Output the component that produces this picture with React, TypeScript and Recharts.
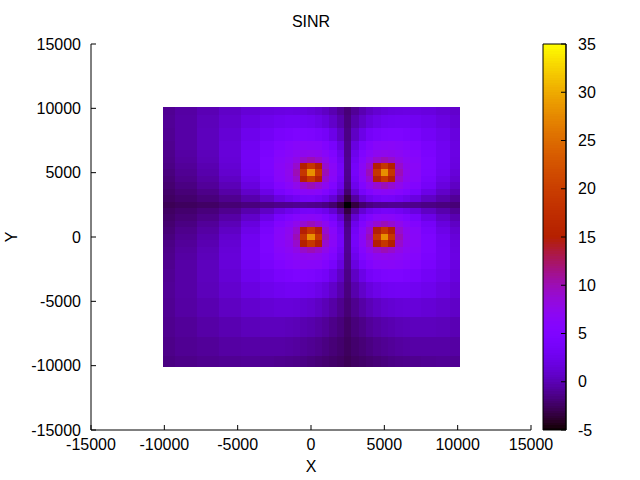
import { ScatterChart, Scatter, XAxis, YAxis, ReferenceArea } from "recharts";

// cell centres of the SINR map (grid is finer round the four sites)
const X_CENTERS = [
  -10000, -8500, -7000, -5500, -4000, -3000, -2000, -1500, -1000, -500, 0, 500, 1000, 1500,
  2000, 2500, 3000, 3500, 4000, 4500, 5000, 5500, 6000, 6500, 7000, 8000, 9000, 10000,
];
const Y_CENTERS = [
  10000, 9000, 8000, 7000, 6500, 6000, 5500, 5000, 4500, 4000, 3500, 3000, 2500, 2000,
  1500, 1000, 500, 0, -500, -1000, -1500, -2000, -3000, -4000, -5500, -7000, -8500, -10000,
];

// SINR (dB), one row per Y_CENTERS entry, one value per X_CENTERS entry
const SINR_ROWS = [
  [-1.1, -0.6, 0.0, 0.7, 1.3, 1.7, 1.9, 2.0, 1.9, 1.8, 1.5, 1.1, 0.6, -0.1, -1.0, -1.9, -1.0, -0.1, 0.6, 1.1, 1.5, 1.8, 1.9, 2.0, 1.9, 1.7, 1.3, 0.9],
  [-1.0, -0.5, 0.2, 1.0, 1.9, 2.5, 2.9, 3.1, 3.1, 3.0, 2.8, 2.3, 1.7, 0.8, -0.3, -1.7, -0.3, 0.8, 1.7, 2.3, 2.8, 3.0, 3.1, 3.1, 2.9, 2.5, 1.9, 1.3],
  [-1.1, -0.5, 0.3, 1.3, 2.5, 3.3, 4.1, 4.5, 4.8, 4.7, 4.6, 4.1, 3.5, 2.2, 0.6, -1.5, 0.6, 2.2, 3.5, 4.1, 4.6, 4.7, 4.8, 4.5, 4.1, 3.3, 2.5, 1.7],
  [-1.2, -0.5, 0.3, 1.5, 2.9, 4.1, 5.3, 5.8, 6.2, 6.5, 6.4, 6.2, 5.4, 4.0, 1.8, -1.3, 1.8, 4.0, 5.4, 6.2, 6.4, 6.5, 6.2, 5.8, 5.3, 4.1, 2.9, 1.9],
  [-1.3, -0.6, 0.2, 1.5, 3.1, 4.5, 5.8, 6.4, 6.9, 7.3, 7.4, 7.2, 6.4, 5.0, 2.5, -1.2, 2.5, 5.0, 6.4, 7.2, 7.4, 7.3, 6.9, 6.4, 5.8, 4.5, 3.1, 2.0],
  [-1.4, -0.7, 0.1, 1.4, 3.1, 4.8, 6.2, 6.9, 7.8, 9.1, 9.9, 9.0, 7.5, 5.8, 3.1, -1.1, 3.1, 5.8, 7.5, 9.0, 9.9, 9.1, 7.8, 6.9, 6.2, 4.8, 3.1, 1.9],
  [-1.5, -0.9, -0.1, 1.2, 3.0, 4.7, 6.5, 7.3, 9.1, 15.0, 18.9, 14.9, 8.9, 6.5, 3.6, -1.1, 3.6, 6.5, 8.9, 14.9, 18.9, 15.0, 9.1, 7.3, 6.5, 4.7, 3.0, 1.8],
  [-1.7, -1.1, -0.3, 1.0, 2.8, 4.6, 6.4, 7.4, 9.9, 18.9, 28.0, 18.9, 9.8, 6.7, 3.7, -1.2, 3.7, 6.7, 9.8, 18.9, 28.0, 18.9, 9.9, 7.4, 6.4, 4.6, 2.8, 1.5],
  [-1.9, -1.3, -0.6, 0.6, 2.3, 4.1, 6.2, 7.2, 9.0, 14.9, 18.9, 14.8, 8.8, 6.3, 3.3, -1.3, 3.3, 6.3, 8.8, 14.8, 18.9, 14.9, 9.0, 7.2, 6.2, 4.1, 2.3, 1.1],
  [-2.1, -1.6, -0.9, 0.1, 1.7, 3.5, 5.4, 6.4, 7.5, 8.9, 9.8, 8.8, 7.2, 5.3, 2.5, -1.6, 2.5, 5.3, 7.2, 8.8, 9.8, 8.9, 7.5, 6.4, 5.4, 3.5, 1.7, 0.6],
  [-2.3, -1.9, -1.4, -0.5, 0.8, 2.2, 4.0, 5.0, 5.8, 6.5, 6.7, 6.3, 5.3, 3.7, 1.2, -2.2, 1.2, 3.7, 5.3, 6.3, 6.7, 6.5, 5.8, 5.0, 4.0, 2.2, 0.8, -0.1],
  [-2.5, -2.2, -1.8, -1.2, -0.3, 0.6, 1.8, 2.5, 3.1, 3.6, 3.7, 3.3, 2.5, 1.2, -0.8, -3.4, -0.8, 1.2, 2.5, 3.3, 3.7, 3.6, 3.1, 2.5, 1.8, 0.6, -0.3, -1.0],
  [-2.8, -2.6, -2.4, -2.0, -1.7, -1.5, -1.3, -1.2, -1.1, -1.1, -1.2, -1.3, -1.6, -2.2, -3.4, -5.2, -3.4, -2.2, -1.6, -1.3, -1.2, -1.1, -1.1, -1.2, -1.3, -1.5, -1.7, -1.9],
  [-2.5, -2.2, -1.8, -1.2, -0.3, 0.6, 1.8, 2.5, 3.1, 3.6, 3.7, 3.3, 2.5, 1.2, -0.8, -3.4, -0.8, 1.2, 2.5, 3.3, 3.7, 3.6, 3.1, 2.5, 1.8, 0.6, -0.3, -1.0],
  [-2.3, -1.9, -1.4, -0.5, 0.8, 2.2, 4.0, 5.0, 5.8, 6.5, 6.7, 6.3, 5.3, 3.7, 1.2, -2.2, 1.2, 3.7, 5.3, 6.3, 6.7, 6.5, 5.8, 5.0, 4.0, 2.2, 0.8, -0.1],
  [-2.1, -1.6, -0.9, 0.1, 1.7, 3.5, 5.4, 6.4, 7.5, 8.9, 9.8, 8.8, 7.2, 5.3, 2.5, -1.6, 2.5, 5.3, 7.2, 8.8, 9.8, 8.9, 7.5, 6.4, 5.4, 3.5, 1.7, 0.6],
  [-1.9, -1.3, -0.6, 0.6, 2.3, 4.1, 6.2, 7.2, 9.0, 14.9, 18.9, 14.8, 8.8, 6.3, 3.3, -1.3, 3.3, 6.3, 8.8, 14.8, 18.9, 14.9, 9.0, 7.2, 6.2, 4.1, 2.3, 1.1],
  [-1.7, -1.1, -0.3, 1.0, 2.8, 4.6, 6.4, 7.4, 9.9, 18.9, 28.0, 18.9, 9.8, 6.7, 3.7, -1.2, 3.7, 6.7, 9.8, 18.9, 28.0, 18.9, 9.9, 7.4, 6.4, 4.6, 2.8, 1.5],
  [-1.5, -0.9, -0.1, 1.2, 3.0, 4.7, 6.5, 7.3, 9.1, 15.0, 18.9, 14.9, 8.9, 6.5, 3.6, -1.1, 3.6, 6.5, 8.9, 14.9, 18.9, 15.0, 9.1, 7.3, 6.5, 4.7, 3.0, 1.8],
  [-1.4, -0.7, 0.1, 1.4, 3.1, 4.8, 6.2, 6.9, 7.8, 9.1, 9.9, 9.0, 7.5, 5.8, 3.1, -1.1, 3.1, 5.8, 7.5, 9.0, 9.9, 9.1, 7.8, 6.9, 6.2, 4.8, 3.1, 1.9],
  [-1.3, -0.6, 0.2, 1.5, 3.1, 4.5, 5.8, 6.4, 6.9, 7.3, 7.4, 7.2, 6.4, 5.0, 2.5, -1.2, 2.5, 5.0, 6.4, 7.2, 7.4, 7.3, 6.9, 6.4, 5.8, 4.5, 3.1, 2.0],
  [-1.2, -0.5, 0.3, 1.5, 2.9, 4.1, 5.3, 5.8, 6.2, 6.5, 6.4, 6.2, 5.4, 4.0, 1.8, -1.3, 1.8, 4.0, 5.4, 6.2, 6.4, 6.5, 6.2, 5.8, 5.3, 4.1, 2.9, 1.9],
  [-1.1, -0.5, 0.3, 1.3, 2.5, 3.3, 4.1, 4.5, 4.8, 4.7, 4.6, 4.1, 3.5, 2.2, 0.6, -1.5, 0.6, 2.2, 3.5, 4.1, 4.6, 4.7, 4.8, 4.5, 4.1, 3.3, 2.5, 1.7],
  [-1.0, -0.5, 0.2, 1.0, 1.9, 2.5, 2.9, 3.1, 3.1, 3.0, 2.8, 2.3, 1.7, 0.8, -0.3, -1.7, -0.3, 0.8, 1.7, 2.3, 2.8, 3.0, 3.1, 3.1, 2.9, 2.5, 1.9, 1.3],
  [-1.1, -0.6, -0.1, 0.5, 1.0, 1.3, 1.5, 1.5, 1.4, 1.2, 1.0, 0.6, 0.1, -0.5, -1.2, -2.0, -1.2, -0.5, 0.1, 0.6, 1.0, 1.2, 1.4, 1.5, 1.5, 1.3, 1.0, 0.7],
  [-1.2, -0.9, -0.5, -0.1, 0.2, 0.3, 0.3, 0.2, 0.1, -0.1, -0.3, -0.6, -0.9, -1.4, -1.8, -2.4, -1.8, -1.4, -0.9, -0.6, -0.3, -0.1, 0.1, 0.2, 0.3, 0.3, 0.2, 0.0],
  [-1.4, -1.1, -0.9, -0.6, -0.5, -0.5, -0.5, -0.6, -0.7, -0.9, -1.1, -1.3, -1.6, -1.9, -2.2, -2.6, -2.2, -1.9, -1.6, -1.3, -1.1, -0.9, -0.7, -0.6, -0.5, -0.5, -0.5, -0.6],
  [-1.6, -1.4, -1.2, -1.1, -1.0, -1.1, -1.2, -1.3, -1.4, -1.5, -1.7, -1.9, -2.1, -2.3, -2.5, -2.8, -2.5, -2.3, -2.1, -1.9, -1.7, -1.5, -1.4, -1.3, -1.2, -1.1, -1.0, -1.1],
];

const AXIS_TICKS = [-15000, -10000, -5000, 0, 5000, 10000, 15000];
const CB_TICKS = [-5, 0, 5, 10, 15, 20, 25, 30, 35];

const CB_MIN = -5;
const CB_MAX = 35;
const MAP_HALF = 10125;
const FONT = '"Liberation Sans", Arial, sans-serif';
const TICK_LEN = 5;

// gnuplot default palette (rgbformulae 7,5,15)
function palette(v: number) {
  const t = Math.min(1, Math.max(0, (v - CB_MIN) / (CB_MAX - CB_MIN)));
  const r = Math.sqrt(t);
  const g = t * t * t;
  const b = Math.max(0, Math.sin(2 * Math.PI * t));
  return `rgb(${Math.round(r * 255)},${Math.round(g * 255)},${Math.round(b * 255)})`;
}

function edges(centers: number[], first: number, last: number) {
  const out = [first];
  for (let i = 1; i < centers.length; i++) out.push((centers[i - 1] + centers[i]) / 2);
  out.push(last);
  return out;
}

const X_EDGES = edges(X_CENTERS, -MAP_HALF, MAP_HALF);
const Y_EDGES = edges(Y_CENTERS, MAP_HALF, -MAP_HALF);

const cells = SINR_ROWS.flatMap((row, j) =>
  row.map((v, i) => ({
    x1: X_EDGES[i],
    x2: X_EDGES[i + 1],
    y1: Y_EDGES[j],
    y2: Y_EDGES[j + 1],
    color: palette(v),
  }))
);

const centerPoints = Y_CENTERS.flatMap((y) => X_CENTERS.map((x) => ({ x, y })));

// colour bar slices
const CB_STEP = 0.25;
const cbSlices: { y1: number; y2: number; color: string }[] = [];
for (let v = CB_MIN; v < CB_MAX; v += CB_STEP) {
  cbSlices.push({ y1: v, y2: v + CB_STEP, color: palette(v + CB_STEP / 2) });
}

const textStyle = { fontFamily: FONT, fontSize: 16, fill: "#000" };

// plain rect without anti-aliased seams between neighbouring cells
function CellRect(props: any) {
  const { x, y, width, height, fill } = props;
  return <rect x={x} y={y} width={width} height={height} fill={fill} shapeRendering="crispEdges" />;
}

function BottomTick(props: any) {
  const { x, y, payload } = props;
  const axisY = y - 8;
  return (
    <g>
      <line x1={x} y1={axisY} x2={x} y2={axisY - TICK_LEN} stroke="#000" />
      <text x={x} y={axisY + 20} textAnchor="middle" {...textStyle}>{payload.value}</text>
    </g>
  );
}

function TopTick(props: any) {
  const { x, y } = props;
  return <line x1={x} y1={y} x2={x} y2={y + TICK_LEN} stroke="#000" />;
}

function LeftTick(props: any) {
  const { x, y, payload } = props;
  const axisX = x + 10;
  return (
    <g>
      <line x1={axisX} y1={y} x2={axisX + TICK_LEN} y2={y} stroke="#000" />
      <text x={x} y={y + 5.5} textAnchor="end" {...textStyle}>{payload.value}</text>
    </g>
  );
}

function RightTick(props: any) {
  const { x, y } = props;
  return <line x1={x} y1={y} x2={x - TICK_LEN} y2={y} stroke="#000" />;
}

function CbRightTick(props: any) {
  const { x, y, payload } = props;
  const axisX = x - 12;
  return (
    <g>
      <line x1={axisX} y1={y} x2={axisX - TICK_LEN} y2={y} stroke="#000" />
      <text x={x} y={y + 5.5} textAnchor="start" {...textStyle}>{payload.value}</text>
    </g>
  );
}

function CbLeftTick(props: any) {
  const { x, y } = props;
  return <line x1={x} y1={y} x2={x + TICK_LEN} y2={y} stroke="#000" />;
}

const abs = { position: "absolute" as const, left: 0, top: 0 };

export default function App() {
  return (
    <div style={{ ...abs, width: 640, height: 480, background: "#fff" }}>
      <div style={abs}>
        <ScatterChart width={640} height={480} margin={{ top: 44, right: 109, bottom: 0, left: 11 }}>
          <XAxis
            type="number" dataKey="x" domain={[-15000, 15000]} ticks={AXIS_TICKS} interval={0}
            allowDataOverflow height={50} tickLine={false} tickSize={0} tickMargin={8}
            tick={<BottomTick />} axisLine={{ stroke: "#000" }}
          />
          <XAxis
            xAxisId="top" orientation="top" type="number" domain={[-15000, 15000]} ticks={AXIS_TICKS}
            interval={0} allowDataOverflow height={0} tickLine={false} tickSize={0} tickMargin={0}
            tick={<TopTick />} axisLine={{ stroke: "#000" }}
          />
          <YAxis
            type="number" dataKey="y" domain={[-15000, 15000]} ticks={AXIS_TICKS} interval={0}
            allowDataOverflow width={80} tickLine={false} tickSize={0} tickMargin={10}
            tick={<LeftTick />} axisLine={{ stroke: "#000" }}
          />
          <YAxis
            yAxisId="right" orientation="right" type="number" domain={[-15000, 15000]} ticks={AXIS_TICKS}
            interval={0} allowDataOverflow width={0} tickLine={false} tickSize={0} tickMargin={0}
            tick={<RightTick />} axisLine={{ stroke: "#000" }}
          />
          {cells.map((c, k) => (
            <ReferenceArea
              key={k} x1={c.x1} x2={c.x2} y1={c.y1} y2={c.y2}
              fill={c.color} fillOpacity={1} shape={<CellRect />}
            />
          ))}
          <Scatter data={centerPoints} shape={() => <g />} isAnimationActive={false} />
        </ScatterChart>
      </div>
      <div style={abs}>
        <ScatterChart width={640} height={480} margin={{ top: 44, right: 14, bottom: 50, left: 543 }}>
          <XAxis type="number" dataKey="x" domain={[0, 1]} hide height={0} />
          <YAxis
            yAxisId="cb" orientation="right" type="number" dataKey="y" domain={[CB_MIN, CB_MAX]}
            ticks={CB_TICKS} interval={0} allowDataOverflow width={60} tickLine={false} tickSize={0}
            tickMargin={12} tick={<CbRightTick />} axisLine={{ stroke: "#000" }}
          />
          <YAxis
            yAxisId="cbl" orientation="left" type="number" domain={[CB_MIN, CB_MAX]} ticks={CB_TICKS}
            interval={0} allowDataOverflow width={0} tickLine={false} tickSize={0} tickMargin={0}
            tick={<CbLeftTick />} axisLine={{ stroke: "#000" }}
          />
          {cbSlices.map((s, k) => (
            <ReferenceArea
              key={k} yAxisId="cb" x1={0} x2={1} y1={s.y1} y2={s.y2}
              fill={s.color} fillOpacity={1} shape={<CellRect />}
            />
          ))}
          <ReferenceArea yAxisId="cb" x1={0} x2={1} y1={CB_MIN} y2={CB_MAX} fill="none" stroke="#000" />
          <Scatter yAxisId="cb" data={CB_TICKS.map((v) => ({ x: 0.5, y: v }))} shape={() => <g />} isAnimationActive={false} />
        </ScatterChart>
      </div>
      <svg width={640} height={480} style={{ ...abs, pointerEvents: "none" }}>
        <text x={311} y={27} textAnchor="middle" {...textStyle}>SINR</text>
        <text x={311} y={472} textAnchor="middle" {...textStyle}>X</text>
        <text x={17} y={237} textAnchor="middle" transform="rotate(-90 17 237)" {...textStyle}>Y</text>
      </svg>
    </div>
  );
}
